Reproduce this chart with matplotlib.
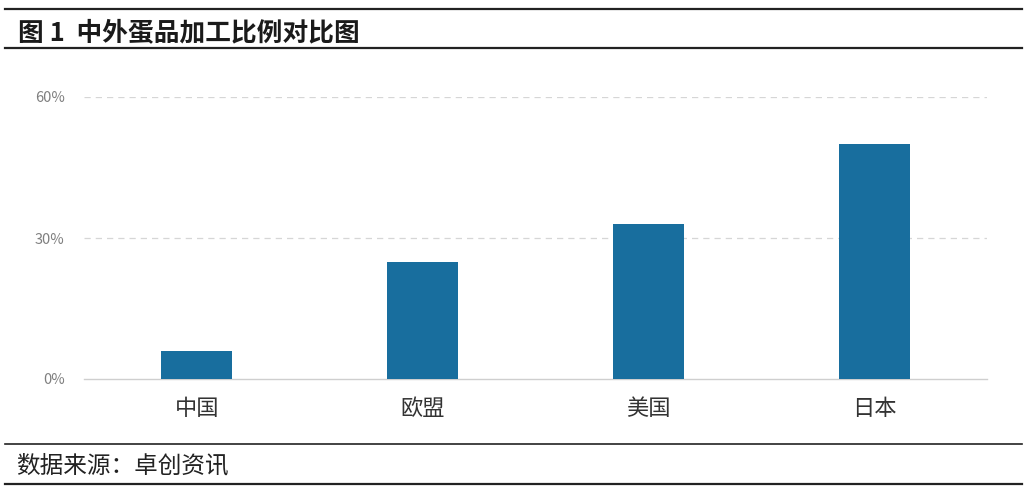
import matplotlib
matplotlib.use('Agg')
import matplotlib.pyplot as plt
from matplotlib.ticker import FuncFormatter

plt.rcParams['font.family'] = ['Noto Sans CJK SC', 'DejaVu Sans']

# data
regions = ['中国', '欧盟', '美国', '日本']
ratio = [6, 25, 33, 50]
yticks = [0, 30, 60]

W, H = 1027, 499
fig = plt.figure(figsize=(W / 100, H / 100), dpi=100)

def px(x0, y0, x1, y1):
    # pixel box -> figure fraction
    return [x0 / W, 1 - y1 / H, (x1 - x0) / W, (y1 - y0) / H]

ax = fig.add_axes(px(84, 97, 987, 379))
x = list(range(len(regions)))
ax.bar(x, ratio, width=0.315, color='#186e9e', zorder=3)
ax.set_xlim(-0.5, len(regions) - 0.5)
ax.set_ylim(0, 60)
ax.set_yticks(yticks)
ax.yaxis.set_major_formatter(FuncFormatter(lambda v, p: '%d%%' % v))
ax.set_xticks(x)
ax.set_xticklabels(regions, fontsize=16, color='#333333')
ax.tick_params(axis='x', length=0, pad=13)
ax.tick_params(axis='y', length=0, pad=14, labelsize=10.5, labelcolor='#7f7f7f')
for s in ['top', 'right', 'left']:
    ax.spines[s].set_visible(False)
ax.spines['bottom'].set_color('#cfcfcf')
ax.spines['bottom'].set_linewidth(1.0)
for v in yticks[1:]:
    ax.axhline(v, color='#d6d6d6', linestyle=(0, (5, 4)), linewidth=0.9, zorder=1)

# title block and source block rules
def hline(y, lw):
    fig.add_artist(plt.Line2D([5 / W, 1022 / W], [1 - y / H, 1 - y / H],
                              color='#222222', linewidth=lw))

hline(9, 1.6)
hline(48, 1.6)
hline(444, 1.2)
hline(484, 1.6)

fig.text(18 / W, 1 - 33 / H, '图 1  中外蛋品加工比例对比图', fontsize=18.5,
         fontweight='bold', color='#1a1a1a', va='center', ha='left')
fig.text(16 / W, 1 - 466 / H, '数据来源：卓创资讯', fontsize=17,
         color='#222222', va='center', ha='left')

fig.savefig('out.png', dpi=100)
